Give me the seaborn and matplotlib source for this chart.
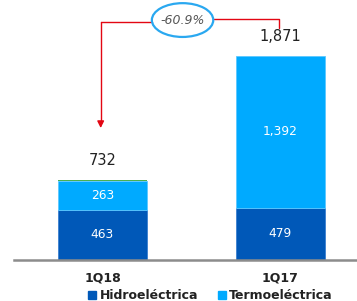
import numpy as np
import pandas as pd
import matplotlib; matplotlib.use("Agg"); import matplotlib.pyplot as plt
from matplotlib.patches import Ellipse
from matplotlib.lines import Line2D
import seaborn as sns

periods = ["1Q18", "1Q17"]
hidro = [463, 479]
termo = [263, 1392]
otros = [6, 0]
totals = ["732", "1,871"]
change_label = "-60.9%"

sns.set_style("white")
plt.rcParams["font.family"] = ["DejaVu Sans"]

c_hidro, c_termo, c_otros = "#0058b8", "#00aaff", "#4caf50"

fig = plt.figure(figsize=(3.57, 3.01), dpi=100)
ax = fig.add_axes([14/357, 1-260/301, 343/357, 260/301])

df = pd.DataFrame({"period": periods, "hidro": hidro, "termo": termo, "otros": otros})
bottom2 = np.array(hidro) + np.array(termo)
sns.barplot(data=df, x="period", y="hidro", color=c_hidro, width=0.5, saturation=1,
            edgecolor="#3a7fd0", linewidth=0.6, ax=ax)
sns.barplot(data=df, x="period", y="termo", color=c_termo, width=0.5, saturation=1,
            bottom=hidro, edgecolor="#5cc8ff", linewidth=0.6, ax=ax)
sns.barplot(data=df, x="period", y="otros", color=c_otros, width=0.5, saturation=1,
            bottom=bottom2, linewidth=0, ax=ax)

ax.set_xlim(-0.497, 1.43)
ax.set_ylim(0, 2385)
for s in ["top", "right", "left"]:
    ax.spines[s].set_visible(False)
ax.spines["bottom"].set_color("#8c8c8c")
ax.spines["bottom"].set_linewidth(1.8)
ax.set_yticks([])
ax.set_xlabel(""); ax.set_ylabel("")
ax.tick_params(axis="x", length=0, pad=8)
ax.set_xticks([0, 1], periods, fontsize=9, fontweight="bold", color="#222222")

for i in range(len(periods)):
    ax.text(i, hidro[i] / 2, f"{hidro[i]:,}", ha="center", va="center", color="white", fontsize=8.8)
    ax.text(i, hidro[i] + termo[i] / 2, f"{termo[i]:,}", ha="center", va="center", color="white", fontsize=8.8)
    top = hidro[i] + termo[i] + otros[i]
    ax.text(i, top + 110, totals[i], ha="center", va="bottom", color="#222222", fontsize=10.5)

# change annotation
red = "#e30613"
ax.plot([-0.01, -0.01], [1260, 2183], color=red, lw=1)
ax.plot([-0.01, 0.28], [2183, 2183], color=red, lw=1)
ax.annotate("", xy=(-0.01, 1185), xytext=(-0.01, 1290),
            arrowprops=dict(arrowstyle="-|>", color=red, lw=1, mutation_scale=10))
ax.plot([0.625, 0.99, 0.99], [2210, 2210, 2128], color=red, lw=1)
ax.add_patch(Ellipse((0.45, 2201), 0.345, 310, fill=False, edgecolor="#2aa8f0", lw=1.6, zorder=5))
ax.text(0.45, 2201, change_label, ha="center", va="center", fontsize=9, style="italic", color="#555555")

# legend
handles = [Line2D([], [], marker="s", ls="", color=c_hidro, markersize=6),
           Line2D([], [], marker="s", ls="", color=c_termo, markersize=6)]
leg = fig.legend(handles, ["Hidroeléctrica", "Termoeléctrica"], loc="center",
                 bbox_to_anchor=(0.59, 0.017), ncol=2, frameon=False, handlelength=0.6,
                 handletextpad=0.3, columnspacing=1.6, borderpad=0,
                 prop={"size": 9, "weight": "bold"})
for t in leg.get_texts():
    t.set_color("#222222")

fig.savefig("out.png", dpi=100)
